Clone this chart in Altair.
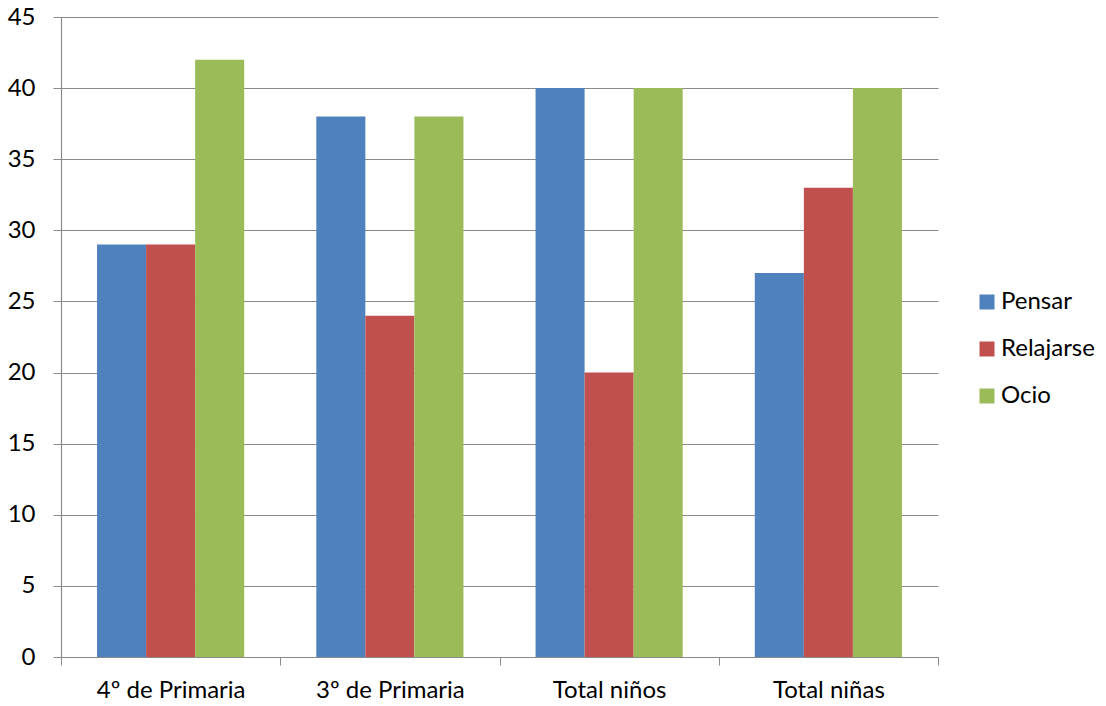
import altair as alt
import pandas as pd

# Category groups and series values
groups = ["4º de Primaria", "3º de Primaria", "Total niños", "Total niñas"]
series = ["Pensar", "Relajarse", "Ocio"]
pensar = [29, 38, 40, 27]
relajarse = [29, 24, 20, 33]
ocio = [42, 38, 40, 40]
colors = ["#4F81BD", "#C0504D", "#9BBB59"]

rows = []
for i, g in enumerate(groups):
    for s, vals in zip(series, [pensar, relajarse, ocio]):
        rows.append({"grupo": g, "serie": s, "valor": vals[i]})
df = pd.DataFrame(rows)

FONT = "Lato"
FSIZE = 24
GRID = "#8A8A8A"

chart = (
    alt.Chart(df)
    .mark_bar()
    .encode(
        x=alt.X(
            "grupo:N",
            sort=groups,
            title=None,
            scale=alt.Scale(paddingInner=0, paddingOuter=0),
            axis=alt.Axis(
                labelAngle=0,
                tickBand="extent",
                grid=False,
                domainColor=GRID,
                tickColor=GRID,
                tickSize=8,
                labelPadding=13,
                labelFontSize=FSIZE,
                labelFont=FONT,
                labelColor="#000000",
            ),
        ),
        xOffset=alt.XOffset(
            "serie:N",
            sort=series,
            scale=alt.Scale(paddingInner=0, paddingOuter=0.735),
        ),
        y=alt.Y(
            "valor:Q",
            title=None,
            scale=alt.Scale(domain=[0, 45], nice=False, zero=True),
            axis=alt.Axis(
                values=list(range(0, 46, 5)),
                grid=True,
                gridColor=GRID,
                gridWidth=1.2,
                domainColor=GRID,
                domainWidth=1.2,
                tickColor=GRID,
                tickSize=8,
                labelPadding=18,
                labelFontSize=FSIZE,
                labelFont=FONT,
                labelColor="#000000",
            ),
        ),
        color=alt.Color(
            "serie:N",
            sort=series,
            scale=alt.Scale(domain=series, range=colors),
            legend=alt.Legend(
                title=None,
                orient="none",
                legendX=914,
                legendY=273,
                symbolType="square",
                symbolSize=225,
                symbolStrokeWidth=0,
                labelFontSize=FSIZE,
                labelFont=FONT,
                labelColor="#000000",
                labelOffset=2,
                rowPadding=23,
            ),
        ),
    )
    .properties(width=877, height=640)
    .configure(
        autosize=alt.AutoSizeParams(type="none"),
        padding={"left": 61, "top": 17, "right": 168, "bottom": 49},
        background="white",
        view=alt.ViewConfig(stroke="transparent", strokeWidth=0),
    )
)

chart.save("out.html", embed_options={"renderer": "svg", "actions": False})
